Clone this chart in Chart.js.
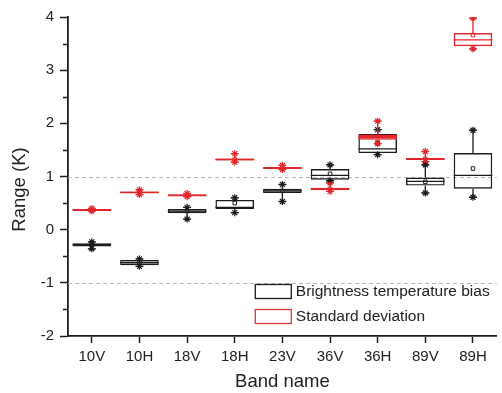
<!DOCTYPE html>
<html><head><meta charset="utf-8">
<script src="https://cdn.jsdelivr.net/npm/chart.js@4/dist/chart.umd.min.js"></script>
<style>html,body{margin:0;padding:0;background:#fff}#wrap{width:502px;height:393px;position:relative}</style>
</head><body><div id="wrap"><canvas id="c"></canvas></div>
<script>
const categories = ['10V','10H','18V','18H','23V','36V','36H','89V','89H'];

// Brightness temperature bias (black boxes)
const biasMin    = [-0.36, -0.69, 0.20, 0.32, 0.53, 0.92, 1.41, 0.69, 0.61];
const biasQ1     = [-0.315, -0.67, 0.31, 0.39, 0.69, 0.94, 1.44, 0.83, 0.77];
const biasMedian = [-0.28, -0.62, 0.35, 0.42, 0.73, 1.02, 1.52, 0.91, 1.02];
const biasQ3     = [-0.255, -0.57, 0.39, 0.56, 0.77, 1.14, 1.80, 0.98, 1.44];
const biasMax    = [-0.23, -0.55, 0.42, 0.60, 0.85, 1.22, 1.88, 1.22, 1.87];
const biasMean   = [-0.28, -0.62, 0.35, 0.50, 0.73, 1.05, 1.62, 0.90, 1.15];

// Standard deviation (red boxes)
const sdMin    = [0.35, 0.66, 0.62, 1.27, 1.13, 0.72, 1.62, 1.28, 3.40];
const sdQ1     = [0.35, 0.68, 0.625, 1.30, 1.14, 0.74, 1.69, 1.31, 3.45];
const sdMedian = [0.37, 0.70, 0.645, 1.32, 1.16, 0.77, 1.74, 1.33, 3.57];
const sdQ3     = [0.39, 0.72, 0.665, 1.34, 1.18, 0.79, 1.79, 1.35, 3.70];
const sdMax    = [0.40, 0.75, 0.68, 1.43, 1.21, 0.88, 2.04, 1.47, 3.98];
const sdMean   = [0.37, 0.70, 0.65, 1.32, 1.16, 0.77, 1.65, 1.33, 3.66];

const yMin = -2, yMax = 4, yStep = 1;
const yMinorTicks = [-1.5, -0.5, 0.5, 1.5, 2.5, 3.5];
const refLines = [-1, 1];
const legendLabels = ['Brightness temperature bias', 'Standard deviation'];
const xTitle = 'Band name';
const yTitle = 'Range (K)';

const BLACK = '#1c1c1c', RED = '#e3262b', FONT = "'Liberation Sans', Arial, sans-serif";

const boxData = (q1, q3) => q1.map((v, i) => [v, q3[i]]);
const pts = arr => arr.map((v, i) => ({x: categories[i], y: v}));
const thinFill = (fill) => (c) => {
  const r = c.raw;
  return (r && Math.abs(r[1] - r[0]) < 0.11) ? fill : 'rgba(0,0,0,0)';
};

const boxSeries = [
  {dsIndex: 0, color: BLACK, min: biasMin, q1: biasQ1, med: biasMedian, q3: biasQ3, max: biasMax},
  {dsIndex: 1, color: RED, min: sdMin, q1: sdQ1, med: sdMedian, q3: sdQ3, max: sdMax}
];

const extras = {
  id: 'extras',
  beforeDatasetsDraw(chart) {
    const {ctx, chartArea, scales} = chart;
    ctx.save();
    ctx.strokeStyle = '#b8b8b8';
    ctx.lineWidth = 1;
    ctx.setLineDash([4, 3]);
    refLines.forEach(v => {
      const y = Math.round(scales.y.getPixelForValue(v)) + 0.5;
      ctx.beginPath(); ctx.moveTo(chartArea.left, y); ctx.lineTo(chartArea.right, y); ctx.stroke();
    });
    ctx.restore();
  },
  afterDatasetsDraw(chart) {
    const {ctx, scales} = chart;
    ctx.save();
    boxSeries.forEach(s => {
      const meta = chart.getDatasetMeta(s.dsIndex);
      meta.data.forEach((bar, i) => {
        const x = bar.x, hw = bar.width / 2;
        ctx.strokeStyle = s.color;
        ctx.lineWidth = 1.3;
        const ym = scales.y.getPixelForValue(s.med[i]);
        ctx.beginPath(); ctx.moveTo(x - hw, ym); ctx.lineTo(x + hw, ym); ctx.stroke();
        const yq1 = scales.y.getPixelForValue(s.q1[i]);
        const yq3 = scales.y.getPixelForValue(s.q3[i]);
        const ylo = scales.y.getPixelForValue(s.min[i]);
        const yhi = scales.y.getPixelForValue(s.max[i]);
        ctx.beginPath();
        ctx.moveTo(x, yq3); ctx.lineTo(x, yhi);
        ctx.moveTo(x, yq1); ctx.lineTo(x, ylo);
        ctx.moveTo(x - 4, yhi); ctx.lineTo(x + 4, yhi);
        ctx.moveTo(x - 4, ylo); ctx.lineTo(x + 4, ylo);
        ctx.stroke();
      });
    });
    ctx.restore();
  },
  afterDraw(chart) {
    const {ctx, chartArea, scales} = chart;
    ctx.save();
    ctx.strokeStyle = BLACK; ctx.lineWidth = 1.5;
    yMinorTicks.forEach(v => {
      const y = Math.round(scales.y.getPixelForValue(v)) + 0.5;
      ctx.beginPath(); ctx.moveTo(chartArea.left - 5, y); ctx.lineTo(chartArea.left, y); ctx.stroke();
    });
    ctx.fillStyle = '#222';
    ctx.font = '18.5px ' + FONT;
    ctx.textAlign = 'center'; ctx.textBaseline = 'middle';
    ctx.translate(20, (chartArea.top + chartArea.bottom) / 2 + 13);
    ctx.rotate(-Math.PI / 2);
    ctx.fillText(yTitle, 0, 0);
    ctx.restore();
    ctx.save();
    const lx = chartArea.right - 242, ly = chartArea.bottom - 52;
    ctx.font = '15.5px ' + FONT;
    ctx.textBaseline = 'middle'; ctx.textAlign = 'left';
    [BLACK, '#d9363a'].forEach((c, k) => {
      const top = ly + k * 25;
      ctx.strokeStyle = c; ctx.lineWidth = 1.3;
      ctx.strokeRect(lx + 0.5, top + 0.5, 36, 14);
      ctx.fillStyle = '#222';
      ctx.fillText(chart.data.datasets[k].label, lx + 41, top + 8);
    });
    ctx.restore();
  }
};

new Chart(document.getElementById('c'), {
  data: {
    labels: categories,
    datasets: [
      {type: 'bar', label: legendLabels[0], data: boxData(biasQ1, biasQ3), backgroundColor: thinFill('#9a9a9a'),
       borderColor: BLACK, borderWidth: 1.4, borderSkipped: false, barPercentage: 0.81, categoryPercentage: 1, grouped: false, order: 3},
      {type: 'bar', label: legendLabels[1], data: boxData(sdQ1, sdQ3), backgroundColor: thinFill(RED),
       borderColor: RED, borderWidth: 1.5, borderSkipped: false, barPercentage: 0.81, categoryPercentage: 1, grouped: false, order: 2},
      {type: 'line', label: 'bias extremes', data: [...pts(biasMin), ...pts(biasMax)], showLine: false,
       pointStyle: 'star', pointRadius: 3.5, borderColor: BLACK, borderWidth: 1.2, order: 1},
      {type: 'line', label: 'sd extremes', data: [...pts(sdMin), ...pts(sdMax)], showLine: false,
       pointStyle: 'star', pointRadius: 3.5, borderColor: RED, borderWidth: 1.2, order: 1},
      {type: 'line', label: 'bias mean', data: pts(biasMean), showLine: false,
       pointStyle: 'rect', pointRadius: 2.5, borderColor: BLACK, backgroundColor: 'rgba(0,0,0,0)', borderWidth: 1, order: 1},
      {type: 'line', label: 'sd mean', data: pts(sdMean), showLine: false,
       pointStyle: 'rect', pointRadius: 2.5, borderColor: RED, backgroundColor: 'rgba(0,0,0,0)', borderWidth: 1, order: 1}
    ]
  },
  options: {
    responsive: true, maintainAspectRatio: false, animation: false, devicePixelRatio: 1,
    layout: {padding: {top: 17, right: 0, left: 0, bottom: 0}},
    plugins: {legend: {display: false}, tooltip: {enabled: false}},
    scales: {
      x: {
        type: 'category', offset: true,
        grid: {display: true, drawOnChartArea: false, offset: false, tickLength: 7, tickColor: BLACK, tickWidth: 1.5},
        border: {display: true, color: BLACK, width: 1.8},
        ticks: {color: '#222', font: {size: 15, family: FONT}, padding: 5, maxRotation: 0},
        title: {display: true, text: xTitle, color: '#222', font: {size: 18.5, family: FONT}, padding: {top: 0, bottom: 0}},
        afterFit(s) { s.height = 57; }
      },
      y: {
        min: yMin, max: yMax,
        grid: {display: true, drawOnChartArea: false, tickLength: 8, tickColor: BLACK, tickWidth: 1.5},
        border: {display: true, color: BLACK, width: 1.8},
        ticks: {stepSize: yStep, color: '#222', font: {size: 15, family: FONT}, padding: 6},
        afterFit(s) { s.width = 68; }
      }
    }
  },
  plugins: [extras]
});
</script>
</body></html>
